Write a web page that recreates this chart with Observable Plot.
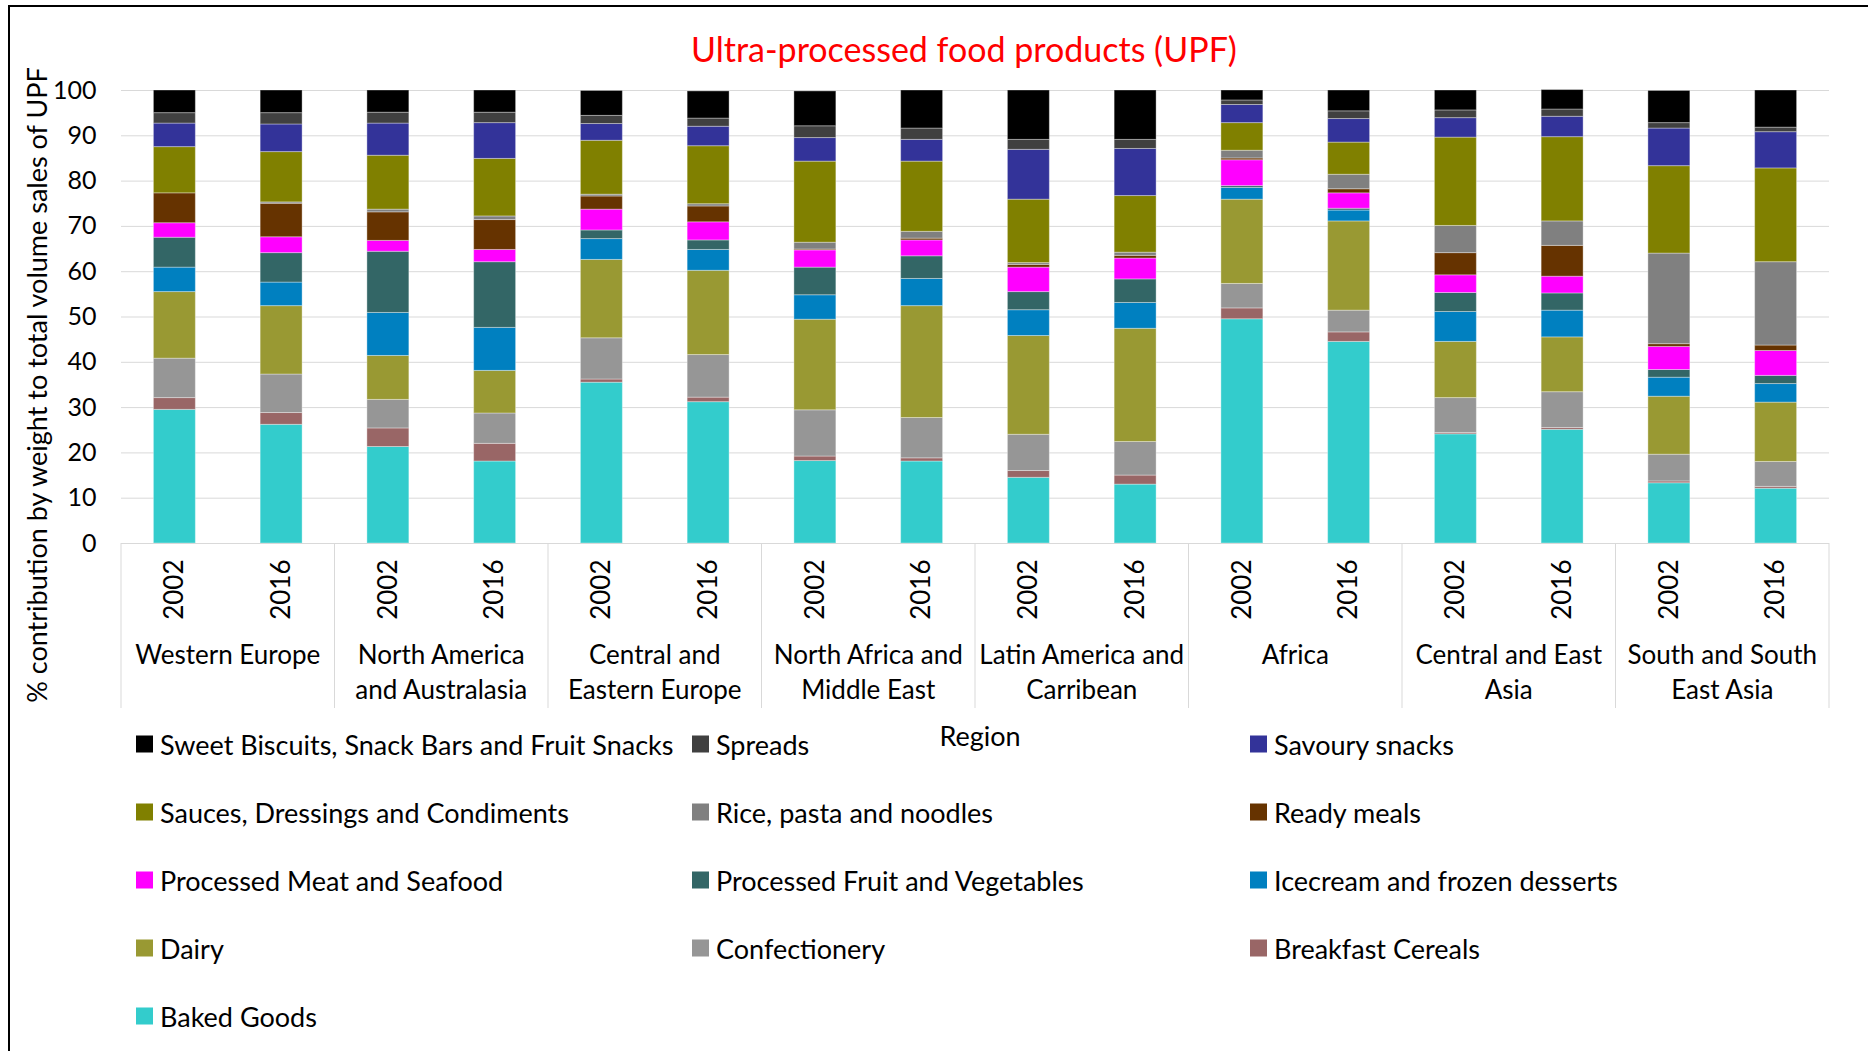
<!DOCTYPE html>
<html>
<head>
<meta charset="utf-8">
<script src="https://cdn.jsdelivr.net/npm/d3@7"></script>
<script src="https://cdn.jsdelivr.net/npm/@observablehq/plot@0.6"></script>
<style>
  body { margin: 0; background: #fff; font-family: Lato, "Noto Sans", sans-serif; }
  #page { position: relative; width: 1868px; height: 1051px; overflow: hidden; background: #fff; }
  #frame { position: absolute; left: 8px; top: 5px; right: -10px; bottom: -10px;
           border-left: 2px solid #000; border-top: 2px solid #000; pointer-events: none; }
  #title { position: absolute; left: 964px; top: 48px; transform: translate(-50%, -50%);
           color: #ff0000; font-size: 34px; white-space: nowrap; }
  #chart { position: absolute; left: 0; top: 70px; }
  #ylabel { position: absolute; left: 36px; top: 385px; transform: translate(-50%, -50%) rotate(-90deg);
            font-size: 27px; white-space: nowrap; color: #000; }
  #xlabel { position: absolute; left: 980px; top: 735px; transform: translate(-50%, -50%);
            font-size: 27px; white-space: nowrap; color: #000; }
  .item { position: absolute; display: flex; align-items: center; font-size: 27px;
          white-space: nowrap; transform: translateY(-50%); color: #000; }
  .sw { width: 17px; height: 17px; margin-right: 7px; flex: none; }
</style>
</head>
<body>
<div id="page">
  <div id="title">Ultra-processed food products (UPF)</div>
  <div id="chart"></div>
  <div id="ylabel">% contribution by weight to total volume sales of UPF</div>
  <div id="xlabel">Region</div>
  <div id="legend"></div>
  <div id="frame"></div>
</div>
<script>
// Food categories, stacked from the bottom of each bar to the top
const categories = [
  "Baked Goods",
  "Breakfast Cereals",
  "Confectionery",
  "Dairy",
  "Icecream and frozen desserts",
  "Processed Fruit and Vegetables",
  "Processed Meat and Seafood",
  "Ready meals",
  "Rice, pasta and noodles",
  "Sauces, Dressings and Condiments",
  "Savoury snacks",
  "Spreads",
  "Sweet Biscuits, Snack Bars and Fruit Snacks"
];
const categoryColors = [
  "#33cccc", "#996666", "#969696", "#999933", "#0080c0", "#336666", "#ff00ff",
  "#663300", "#808080", "#808000", "#333399", "#404040", "#000000"
];

const regions = [
  "Western Europe", "North America and Australasia", "Central and Eastern Europe",
  "North Africa and Middle East", "Latin America and Carribean", "Africa",
  "Central and East Asia", "South and South East Asia"
];
const regionLabels = [
  "Western Europe", "North America\nand Australasia", "Central and\nEastern Europe",
  "North Africa and\nMiddle East", "Latin America and\nCarribean", "Africa",
  "Central and East\nAsia", "South and South\nEast Asia"
];
const years = ["2002", "2016"];

// % of UPF volume, one value per bar: each region's 2002 then 2016
const bakedGoods        = [29.5, 26.2, 21.3, 18.1, 35.5, 31.2, 18.2, 18.1, 14.5, 13.0, 49.5, 44.5, 24.1, 25.1, 13.3, 12.1];
const breakfastCereals  = [2.6, 2.6, 4.1, 3.9, 0.7, 1.0, 1.0, 0.7, 1.5, 2.0, 2.4, 2.1, 0.3, 0.4, 0.4, 0.4];
const confectionery     = [8.7, 8.5, 6.3, 6.7, 9.1, 9.4, 10.2, 8.9, 8.0, 7.4, 5.4, 4.8, 7.7, 7.9, 5.9, 5.5];
const dairy             = [14.7, 15.1, 9.7, 9.4, 17.3, 18.6, 20.0, 24.7, 21.8, 25.0, 18.6, 19.7, 12.4, 12.1, 12.8, 13.1];
const icecream          = [5.4, 5.2, 9.5, 9.5, 4.6, 4.6, 5.4, 6.0, 5.7, 5.7, 2.6, 2.4, 6.6, 5.9, 4.2, 4.1];
const fruitVegetables   = [6.6, 6.5, 13.5, 14.5, 1.9, 2.1, 6.1, 5.0, 4.0, 5.2, 0.4, 0.4, 4.2, 3.8, 1.7, 1.8];
const meatSeafood       = [3.2, 3.5, 2.4, 2.7, 4.6, 4.0, 3.8, 3.5, 5.4, 4.6, 5.7, 3.4, 3.9, 3.7, 5.1, 5.5];
const readyMeals        = [6.6, 7.4, 6.3, 6.6, 2.9, 3.5, 0.2, 0.4, 0.6, 0.6, 0.4, 0.9, 4.9, 6.8, 0.6, 1.2];
const ricePastaNoodles  = [0.0, 0.3, 0.6, 0.8, 0.4, 0.5, 1.5, 1.5, 0.4, 0.7, 1.7, 3.2, 6.0, 5.4, 20.0, 18.4];
const saucesCondiments  = [10.2, 11.1, 11.9, 12.7, 11.9, 12.8, 17.9, 15.5, 14.0, 12.5, 6.1, 7.1, 19.5, 18.6, 19.3, 20.7];
const savourySnacks     = [5.2, 6.1, 7.1, 7.9, 3.7, 4.3, 5.2, 4.8, 11.0, 10.4, 4.0, 5.2, 4.3, 4.5, 8.3, 8.0];
const spreads           = [2.3, 2.5, 2.4, 2.3, 1.8, 1.8, 2.6, 2.5, 2.2, 2.0, 1.0, 1.7, 1.7, 1.6, 1.2, 1.0];
const sweetBiscuits     = [5.0, 5.0, 4.9, 4.9, 5.5, 6.0, 7.7, 8.4, 10.9, 10.9, 2.2, 4.6, 4.4, 4.3, 7.1, 8.2];

const seriesValues = [
  bakedGoods, breakfastCereals, confectionery, dairy, icecream, fruitVegetables,
  meatSeafood, readyMeals, ricePastaNoodles, saucesCondiments, savourySnacks, spreads, sweetBiscuits
];

const yTicks = [0, 10, 20, 30, 40, 50, 60, 70, 80, 90, 100];

// Legend reads row by row, three entries per row
const legendOrder = [
  "Sweet Biscuits, Snack Bars and Fruit Snacks", "Spreads", "Savoury snacks",
  "Sauces, Dressings and Condiments", "Rice, pasta and noodles", "Ready meals",
  "Processed Meat and Seafood", "Processed Fruit and Vegetables", "Icecream and frozen desserts",
  "Dairy", "Confectionery", "Breakfast Cereals",
  "Baked Goods"
];

const barKey = (region, year) => `${region}|${year}`;
const bars = regions.flatMap(r => years.map(y => ({region: r, year: y, key: barKey(r, y)})));

const rows = [];
bars.forEach((b, i) => {
  categories.forEach((c, j) => {
    rows.push({key: b.key, region: b.region, year: b.year, category: c, value: seriesValues[j][i]});
  });
});

// Region names centred under each pair of bars, with separators between regions
function regionAxis(index, scales, values, dimensions) {
  const x = scales.x;
  const info = scales.scales && scales.scales.x;
  const bw = typeof x.bandwidth === "function" ? x.bandwidth() : info.bandwidth;
  const step = typeof x.step === "function" ? x.step() : info.step;
  const base = dimensions.height - dimensions.marginBottom;
  const g = d3.create("svg:g")
    .attr("font-family", "Lato, 'Noto Sans', sans-serif")
    .attr("font-size", 26)
    .attr("fill", "#000")
    .attr("text-anchor", "middle");
  regions.forEach((r, i) => {
    const left = x(barKey(r, years[0])) + bw / 2 - step / 2;
    const right = x(barKey(r, years[years.length - 1])) + bw / 2 + step / 2;
    const edges = i === regions.length - 1 ? [left, right] : [left];
    edges.forEach(e => {
      g.append("line")
        .attr("x1", e).attr("x2", e)
        .attr("y1", base).attr("y2", base + 165)
        .attr("stroke", "#d9d9d9").attr("stroke-width", 1);
    });
    const t = g.append("text").attr("x", (left + right) / 2).attr("y", base + 121);
    regionLabels[i].split("\n").forEach((line, k) => {
      t.append("tspan").attr("x", (left + right) / 2).attr("dy", k === 0 ? 0 : 35).text(line);
    });
  });
  return g.node();
}

const chart = Plot.plot({
  width: 1868,
  height: 650,
  marginTop: 20,
  marginBottom: 177,
  marginLeft: 121,
  marginRight: 39,
  style: {fontFamily: "Lato, 'Noto Sans', sans-serif", fontSize: "25px", color: "#000", background: "transparent"},
  x: {type: "band", domain: bars.map(b => b.key), paddingInner: 0.607, paddingOuter: 0.3035, round: false},
  y: {domain: [0, 100]},
  color: {type: "ordinal", domain: categories, range: categoryColors},
  marks: [
    Plot.gridY(yTicks, {stroke: "#d9d9d9", strokeOpacity: 1}),
    Plot.barY(rows, Plot.stackY({
      x: "key", y: "value", fill: "category", order: null,
      stroke: "#ffffff", strokeOpacity: 0.35, strokeWidth: 1
    })),
    Plot.ruleY([0], {stroke: "#d9d9d9"}),
    Plot.axisY(yTicks, {tickSize: 0, tickPadding: 25, fontSize: 25, label: null}),
    Plot.axisX({
      tickSize: 0, tickPadding: 16, tickRotate: -90, fontSize: 26, label: null,
      tickFormat: k => k.split("|")[1]
    }),
    regionAxis
  ]
});
document.getElementById("chart").append(chart);

// Legend
const legendColumns = [136, 692, 1250];
const legend = document.getElementById("legend");
legendOrder.forEach((name, i) => {
  const item = document.createElement("div");
  item.className = "item";
  item.style.left = legendColumns[i % 3] + "px";
  item.style.top = (744 + Math.floor(i / 3) * 68) + "px";
  const sw = document.createElement("span");
  sw.className = "sw";
  sw.style.background = categoryColors[categories.indexOf(name)];
  const label = document.createElement("span");
  label.textContent = name;
  item.append(sw, label);
  legend.append(item);
});
</script>
</body>
</html>
